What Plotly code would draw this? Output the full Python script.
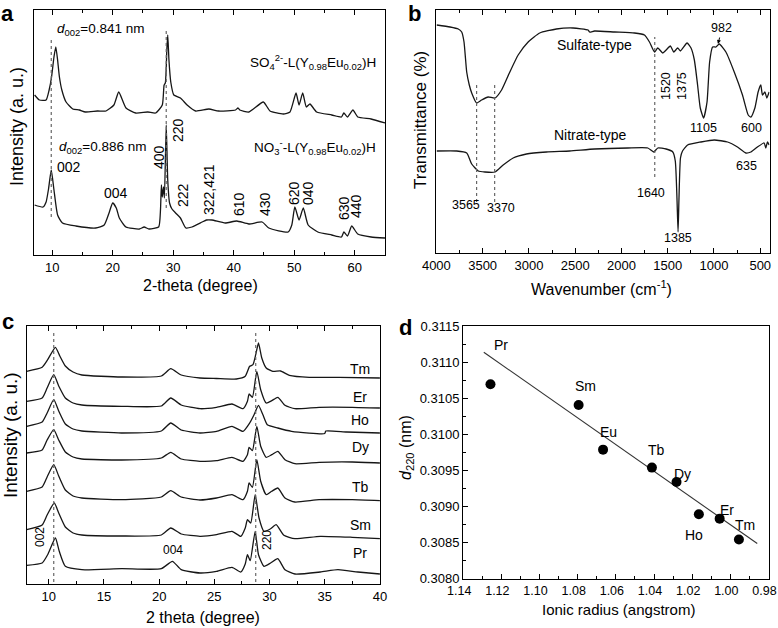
import plotly.graph_objects as go

W, H = 778, 628
FONT = "Liberation Sans, Arial, sans-serif"
LINE = "#161616"

# ---------------- Panel a: XRD of sulfate / nitrate LRH ----------------
a_sul_x = [7.1, 7.9, 9.0, 9.5, 9.9, 10.3, 10.6, 10.9, 11.2, 11.6, 12.3, 13.4, 14.5, 15.5, 17.5, 18.9,
           20.2, 21.0, 22.2, 23.8, 25.8, 27.1, 28.2, 28.5, 28.7, 28.95, 29.1, 29.3, 29.6, 30.1, 31.2,
           32.3, 33.7, 35.9, 37.5, 40.3, 40.7, 41.0, 42.5, 44.9, 46.0, 48.2, 49.3, 50.3, 50.8, 51.4,
           52.0, 52.6, 53.7, 56.2, 57.8, 58.2, 58.8, 59.7, 60.5, 62.7, 65.0]
a_sul_y = [160, 155, 155, 165, 178, 198, 208, 195, 178, 165, 153, 146, 145, 143, 144, 144,
           150, 163, 147, 142, 143, 142, 150, 170, 172, 205, 220, 195, 173, 160, 157,
           150, 144, 146, 144, 145, 147, 145, 143, 153, 144, 141, 143, 162, 150, 162,
           148, 151, 143, 140, 138, 142, 138, 145, 138, 136, 132]
a_nit_x = [7.1, 8.5, 9.0, 9.4, 9.85, 10.3, 10.9, 11.7, 13.9, 17.2, 18.6, 19.4, 20.0, 20.6, 21.1,
           22.2, 24.4, 25.2, 26.0, 27.6, 27.9, 28.05, 28.2, 28.4, 28.55, 28.85, 29.1, 29.4, 29.8,
           30.4, 31.2, 32.1, 33.1, 34.8, 35.5, 36.4, 38.6, 40.5, 42.5, 44.7, 45.8, 49.0, 49.6, 50.1,
           50.8, 51.5, 52.3, 53.9, 56.2, 57.8, 58.2, 58.8, 59.5, 60.5, 62.7, 65.0]
a_nit_y = [50, 48, 53, 66, 85, 65, 40, 32, 29, 27, 30, 42, 52, 47, 37,
           28, 26, 28, 26, 28, 45, 70, 58, 68, 57, 130, 75, 52, 46,
           42, 37, 27, 28, 33, 35, 35, 32, 34, 31, 33, 27, 23, 30, 48,
           35, 47, 30, 23, 20, 18, 23, 19, 29, 21, 18, 17]
a_guide_x = [9.85, 28.85]
a_guide_lo = [38, 47]
a_guide_hi = [218, 225]

# ---------------- Panel b: FTIR ----------------
b_sul_x = [3996, 3852, 3763, 3726, 3701, 3672, 3644, 3618, 3565, 3511, 3440, 3367, 3295, 3206, 3116,
           3008, 2883, 2703, 2523, 2360, 2344, 2290, 2074, 1859, 1751, 1697, 1643, 1607, 1553, 1517,
           1471, 1435, 1392, 1363, 1291, 1248, 1212, 1177, 1148, 1112, 1075, 1047, 1015, 978, 943,
           871, 781, 692, 630, 601, 558, 523, 494, 476, 450, 429, 404]
b_sul_y = [228, 226, 224, 221, 211, 181, 168, 160, 150, 153, 156, 155, 163, 181, 198,
           211, 220, 224, 225, 223, 221, 222, 221, 220, 218, 211, 201, 205, 200, 203,
           207, 201, 205, 202, 210, 205, 193, 168, 145, 135, 151, 191, 206, 206, 209,
           201, 181, 158, 138, 136, 145, 161, 168, 158, 161, 155, 161]
b_nit_x = [3996, 3780, 3672, 3618, 3547, 3475, 3367, 3278, 3170, 3026, 2810, 2559, 2290, 1931, 1715,
           1651, 1607, 1517, 1445, 1418, 1400, 1388, 1378, 1362, 1340, 1285, 1141, 997, 853, 746,
           656, 601, 530, 458, 440, 422, 404]
b_nit_y = [102, 102, 100, 89, 82, 81, 81, 88, 95, 99, 101, 102, 104, 105, 105,
           101, 105, 104, 101, 92, 55, 21, 55, 95, 102, 108, 111, 113, 111, 106,
           100, 101, 106, 110, 105, 111, 108]
b_guide_x = [3565, 3370, 1640]
b_guide_lo = [51, 51, 76]
b_guide_hi = [170, 170, 216]

# ---------------- Panel c: XRD of Ln series ----------------
tm_x = [8.0, 9.4, 9.9, 10.6, 11.0, 11.5, 12.2, 13.0, 16.6, 20.2, 21.05, 22.0, 23.7, 25.2, 27.0, 27.8,
        28.2, 28.5, 28.75, 29.0, 29.3, 29.7, 30.3, 31.0, 31.8, 33.6, 36.3, 40.0]
tm_y = [212.7, 216.7, 224.3, 236.7, 228, 218, 212, 209, 207, 208, 215.3, 209, 206, 205.5, 205, 207.7,
        217.7, 219.3, 229.3, 241, 226, 216, 212.7, 213, 208.7, 206.7, 206.7, 206]
er_x = [8.0, 9.4, 9.85, 10.45, 10.9, 11.5, 12.2, 13.0, 16.6, 20.2, 21.05, 22.0, 23.7, 25.2, 26.6,
        27.6, 28.0, 28.15, 28.45, 28.85, 29.2, 29.7, 30.2, 30.75, 31.4, 32.3, 34.5, 37.5, 40.0]
er_y = [182.7, 186, 196, 209.3, 198, 186, 181, 179, 177.7, 178, 186, 179, 175.3, 176.7, 180,
        175.3, 182.7, 190, 186.7, 212.7, 194.3, 181, 183.3, 186.7, 178.7, 175.3, 176.7, 176.7, 176]
ho_x = [8.0, 9.4, 9.85, 10.45, 10.9, 11.5, 12.2, 13.0, 16.6, 20.2, 21.05, 22.0, 23.7, 25.2, 26.6,
        27.6, 28.2, 28.6, 29.0, 29.4, 29.8, 30.75, 32.0, 35.0, 35.1, 37.0, 40.0]
ho_y = [157.7, 162, 171, 184.3, 173, 160, 155, 153, 151, 153, 161, 154, 151, 152.7, 157.7,
        152.7, 161, 169.3, 178.7, 169.3, 159.3, 156, 152.7, 150.5, 153, 152, 151]
dy_x = [8.0, 9.4, 9.85, 10.45, 10.9, 11.5, 12.2, 13.0, 16.6, 20.2, 21.05, 22.0, 23.7, 25.2, 26.6,
        27.6, 28.0, 28.15, 28.45, 28.85, 29.2, 29.7, 30.2, 30.75, 31.4, 32.3, 34.5, 37.5, 40.0]
dy_y = [131, 134, 144, 154.3, 144, 132, 127, 125, 124, 126, 131.7, 125, 122.7, 123.3, 126.7,
        122.7, 129.3, 136.7, 133.3, 157.7, 137.7, 126.7, 129.3, 132.7, 124.3, 120.3, 121.7, 122, 121]
tb_x = [8.0, 9.4, 9.85, 10.45, 10.9, 11.5, 12.2, 13.0, 16.6, 20.2, 21.05, 22.0, 23.7, 25.2, 26.6,
        27.6, 28.0, 28.15, 28.45, 28.85, 29.2, 29.7, 30.2, 30.75, 31.4, 32.3, 34.5, 37.5, 40.0]
tb_y = [92.7, 97, 107, 119.3, 108, 94, 88, 86, 84.3, 87, 93.3, 87, 84, 86, 89.3,
        84.3, 92.7, 101, 96.7, 124.3, 102.7, 89.3, 92.7, 96, 86, 82, 84.3, 84.3, 83.3]
sm_x = [8.0, 9.4, 9.85, 10.5, 10.9, 11.5, 12.2, 13.0, 16.6, 20.2, 21.05, 22.0, 23.7, 25.2, 26.6,
        27.4, 27.8, 28.0, 28.3, 28.7, 29.05, 29.5, 30.1, 30.6, 31.3, 32.3, 34.6, 37.5, 40.0]
sm_y = [54.3, 59, 69, 81, 71, 57, 51, 49, 48, 49, 56, 50, 47.7, 49.3, 52.7,
        47.7, 56, 64.3, 61, 89.3, 66, 52.7, 55.3, 59.3, 48.7, 45.3, 47.7, 46.7, 45.3]
pr_x = [8.0, 9.4, 9.9, 10.6, 10.95, 11.5, 13.0, 16.6, 20.2, 21.2, 22.0, 23.7, 25.2, 26.6, 27.4,
        27.8, 28.0, 28.25, 28.7, 29.0, 29.5, 30.1, 30.75, 31.4, 32.3, 34.6, 36.2, 38.0, 40.0]
pr_y = [18.7, 21, 29.3, 46, 32.7, 17.7, 14.3, 15.3, 15.3, 22.7, 14.3, 11, 12.7, 16.7, 12,
        20, 29.3, 23.3, 52.7, 29.3, 17.7, 21, 25.3, 14.3, 10, 12, 14.3, 12, 10]
c_names = ["Tm", "Er", "Ho", "Dy", "Tb", "Sm", "Pr"]
c_guide_x = [10.45, 28.75]
c_guide_lo = [2, 2]
c_guide_hi = [252, 252]

# ---------------- Panel d: d220 vs ionic radius ----------------
d_ions = ["Pr", "Sm", "Eu", "Tb", "Dy", "Ho", "Er", "Tm"]
d_radius = [1.1257, 1.0795, 1.0667, 1.0411, 1.0282, 1.0165, 1.0056, 0.9955]
d_spacing = [0.31070, 0.31041, 0.30979, 0.30954, 0.30934, 0.30889, 0.30883, 0.30854]
fit_x = [1.1292, 0.9859]
fit_y = [0.311145, 0.308484]


def P(x, y):
    return x / W, 1 - y / H


fig = go.Figure()


def curve(x, y, ax):
    fig.add_trace(go.Scatter(x=x, y=y, xaxis="x" + ax, yaxis="y" + ax, mode="lines",
                             line=dict(color=LINE, width=1.3, shape="spline", smoothing=0.5),
                             hoverinfo="skip", showlegend=False))


def guides(xs, lo, hi, ax):
    for gx, l, h in zip(xs, lo, hi):
        fig.add_trace(go.Scatter(x=[gx, gx], y=[l, h], xaxis="x" + ax, yaxis="y" + ax, mode="lines",
                                 line=dict(color="#666", width=1.2, dash="dot"),
                                 hoverinfo="skip", showlegend=False))


curve(a_sul_x, a_sul_y, "")
curve(a_nit_x, a_nit_y, "")
guides(a_guide_x, a_guide_lo, a_guide_hi, "")
curve(b_sul_x, b_sul_y, "2")
curve(b_nit_x, b_nit_y, "2")
guides(b_guide_x, b_guide_lo, b_guide_hi, "2")
for cx, cy in [(tm_x, tm_y), (er_x, er_y), (ho_x, ho_y), (dy_x, dy_y), (tb_x, tb_y), (sm_x, sm_y), (pr_x, pr_y)]:
    curve(cx, cy, "3")
guides(c_guide_x, c_guide_lo, c_guide_hi, "3")
fig.add_trace(go.Scatter(x=fit_x, y=fit_y, xaxis="x4", yaxis="y4", mode="lines",
                         line=dict(color="#333", width=1.1), hoverinfo="skip", showlegend=False))
fig.add_trace(go.Scatter(x=d_radius, y=d_spacing, xaxis="x4", yaxis="y4", mode="markers",
                         marker=dict(color="black", size=10), hoverinfo="skip", showlegend=False))


def dom_x(l, r):
    return [l / W, r / W]


def dom_y(t, b):
    return [1 - b / H, 1 - t / H]


base = dict(showline=True, linecolor="black", linewidth=1, showgrid=False, zeroline=False,
            automargin=False, ticklabeloverflow="allow",
            tickfont=dict(family=FONT, size=13, color="black"), tickcolor="black")
noy = dict(base, showticklabels=False, ticks="", mirror=True)

layout = dict(
    template="none",
    width=W, height=H, margin=dict(l=0, r=0, t=0, b=0, pad=0, autoexpand=False),
    paper_bgcolor="white", plot_bgcolor="white", showlegend=False,
    font=dict(family=FONT, color="black"),
    xaxis=dict(base, domain=dom_x(34, 385), range=[7, 65], anchor="y", tick0=0, dtick=10,
               ticks="inside", ticklen=5, mirror="ticks",
               minor=dict(dtick=5, ticks="inside", ticklen=3, tickcolor="black")),
    yaxis=dict(noy, domain=dom_y(10, 255), range=[0, 245], anchor="x"),
    xaxis2=dict(base, domain=dom_x(436.3, 769.5), range=[4000.5, 400], anchor="y2", tick0=500, dtick=500,
                ticks="inside", ticklen=5, mirror="ticks",
                minor=dict(dtick=250, ticks="inside", ticklen=3, tickcolor="black")),
    yaxis2=dict(noy, domain=dom_y(10, 253), range=[0, 243], anchor="x2"),
    xaxis3=dict(base, domain=dom_x(26.7, 380), range=[8, 40.01], anchor="y3", tick0=0, dtick=5,
                ticks="inside", ticklen=5, mirror="ticks",
                minor=dict(dtick=2.5, ticks="inside", ticklen=3, tickcolor="black")),
    yaxis3=dict(noy, domain=dom_y(326, 584), range=[0, 258], anchor="x3"),
    xaxis4=dict(base, domain=dom_x(463, 768.7), range=[1.1401, 0.9799], anchor="y4", tick0=0.98,
                dtick=0.02, tickformat=".2f", ticks="inside", ticklen=5, mirror=True,
                ticklabelshift=4, tickfont=dict(family=FONT, size=12.5, color="black"),
                minor=dict(dtick=0.01, ticks="inside", ticklen=3, tickcolor="black")),
    yaxis4=dict(base, domain=dom_y(326, 579), range=[0.30799, 0.31151], anchor="x4", dtick=0.0005,
                tickformat=".4f", ticks="inside", ticklen=5, mirror=True,
                minor=dict(dtick=0.00025, ticks="inside", ticklen=3, tickcolor="black")),
)

ann = []


def T(text, x, y, size=14, angle=0, xanchor="center", bold=False):
    px, py = P(x, y)
    if bold:
        text = "<b>" + text + "</b>"
    ann.append(dict(text=text, x=px, y=py, xref="paper", yref="paper", showarrow=False,
                    xanchor=xanchor, yanchor="middle", textangle=angle,
                    font=dict(family=FONT, size=size, color="black")))


# panel letters
T("a", 8, 13, 22, bold=True)
T("b", 414, 13, 22, bold=True)
T("c", 8, 321, 22, bold=True)
T("d", 405, 327, 22, bold=True)

# axis titles
T("Intensity (a. u.)", 17, 127, 18, angle=-90)
T("2-theta (degree)", 200, 285, 16)
T("Transmittance (%)", 421, 120, 17, angle=-90)
T("Wavenumber (cm<sup>-1</sup>)", 601, 288, 16)
T("Intensity (a. u.)", 10, 435, 19, angle=-90)
T("2 theta (degree)", 203, 617, 16)
T("<i>d</i><sub>220</sub> (nm)", 407, 448, 16, angle=-90)
T("Ionic radius (angstrom)", 618, 609, 15)

# panel a labels
T("<i>d</i><sub>002</sub>=0.841 nm", 55, 30, 13.5, xanchor="left")
T("<i>d</i><sub>002</sub>=0.886 nm", 57, 148, 13.5, xanchor="left")
T("SO<sub>4</sub><sup>2-</sup>-L(Y<sub>0.98</sub>Eu<sub>0.02</sub>)H", 378, 62, 13.5, xanchor="right")
T("NO<sub>3</sub><sup>-</sup>-L(Y<sub>0.98</sub>Eu<sub>0.02</sub>)H", 378, 147, 13.5, xanchor="right")
T("002", 69, 167, 14)
T("004", 116, 193, 14)
for lab, x, y in [("400", 159, 157), ("220", 178, 130), ("222", 183, 195), ("322,421", 209, 190),
                  ("610", 239, 204), ("430", 265, 204), ("620", 294, 193), ("040", 308, 193),
                  ("630", 344, 208), ("440", 356, 206)]:
    T(lab, x, y, 14, angle=-90)

# panel b labels
T("Sulfate-type", 594, 45, 14)
T("Nitrate-type", 590, 135, 14)
T("3565", 466, 205, 12.5)
T("3370", 501, 208, 12.5)
T("1640", 651, 193, 12.5)
T("1385", 678, 238, 12.5)
T("1520", 666, 86, 12.5, angle=-90)
T("1375", 682, 86, 12.5, angle=-90)
T("1105", 703, 128, 12.5)
T("600", 751, 128, 12.5)
T("982", 721, 28, 12.5)
T("635", 746, 166, 12.5)
hx, hy = P(718, 44)
ann.append(dict(text="", x=hx, y=hy, xref="paper", yref="paper", showarrow=True, ax=2, ay=-8,
                arrowhead=2, arrowsize=0.8, arrowwidth=1, arrowcolor="black"))

# panel c labels
for name, y in zip(c_names, [369, 397, 420, 447, 487, 525, 553]):
    T(name, 360, y, 14)
T("002", 40, 537, 12, angle=-90)
T("004", 173, 550, 12)
T("220", 267, 540, 12, angle=-90)

# panel d labels
for name, x, y in [("Pr", 501, 345), ("Sm", 585, 386), ("Eu", 608, 432), ("Tb", 656, 450),
                   ("Dy", 682, 474), ("Ho", 694, 535), ("Er", 727, 510), ("Tm", 745, 525)]:
    T(name, x, y, 14)

layout["annotations"] = ann
fig.update_layout(**layout)
fig.write_html("out.html", config={"displayModeBar": False},
               post_script="document.body.style.margin='0';document.body.style.padding='0';")
